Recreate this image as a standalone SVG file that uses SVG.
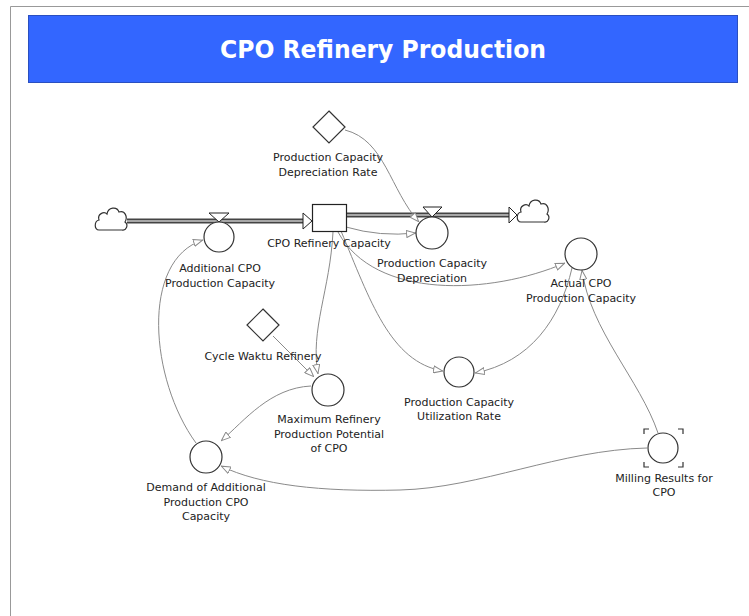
<svg xmlns="http://www.w3.org/2000/svg" width="749" height="616" viewBox="0 0 749 616">
<defs>
<style>
.lbl{font-family:"DejaVu Sans",Verdana,sans-serif;font-size:11px;fill:#222;text-anchor:middle}
.aux{fill:#fff;stroke:#333;stroke-width:1.2}
.link{fill:none;stroke:#8a8a8a;stroke-width:1}
.pipeO{fill:none;stroke:#444;stroke-width:5}
.pipeI{fill:none;stroke:#c8c8c8;stroke-width:1.6}
.head{fill:#fff;stroke:#222;stroke-width:1}
</style>
<marker id="ah" viewBox="0 0 10 8" refX="10" refY="4" markerWidth="10" markerHeight="8" markerUnits="userSpaceOnUse" orient="auto">
<path d="M0.5,0.5 L9.5,4 L0.5,7.5 Z" fill="#fff" stroke="#8a8a8a" stroke-width="1"/>
</marker>
<path id="cloud" d="M4,26 C-1,26 -1,17 4,16 C2,10 9,7 12,10 C13,3 22,2 24,8 C30,6 33,13 30,18 C34,21 31,27 27,26 Z" fill="#fff" stroke="#333" stroke-width="1.2"/>
</defs>
<rect width="749" height="616" fill="#fff"/>
<path d="M10.5,616 L10.5,6.5 L749,6.5" fill="none" stroke="#999" stroke-width="1"/>
<g id="title">
<rect x="28.5" y="15.5" width="709" height="67" fill="#3366ff" stroke="#2a4fc0" stroke-width="1"/>
<text x="383" y="58" font-family="DejaVu Sans,Verdana,sans-serif" font-size="24" font-weight="bold" fill="#fff" text-anchor="middle" textLength="326" lengthAdjust="spacingAndGlyphs">CPO Refinery Production</text>
</g>
<g id="connectors">
<path class="pipeO" d="M127,221 L304,221"/><path class="pipeI" d="M127,221 L304,221"/>
<path class="pipeO" d="M346,215 L510,215"/><path class="pipeI" d="M346,215 L510,215"/>
<path class="head" d="M303,213 L303,229 L312,221 Z"/>
<path class="head" d="M509,207 L509,223 L517,215 Z"/>
<path class="link" marker-end="url(#ah)" d="M196,443 C150,380 140,260 203,240"/>
<path class="link" marker-end="url(#ah)" d="M346,227 Q380,237 416,233"/>
<path class="link" marker-end="url(#ah)" d="M345,130 C385,140 390,190 419,222"/>
<path class="link" marker-end="url(#ah)" d="M338,232 C375,300 490,295 565,263"/>
<path class="link" marker-end="url(#ah)" d="M341,231 C370,300 390,362 443,371"/>
<path class="link" marker-end="url(#ah)" d="M333,232 C330,290 310,330 318,374"/>
<path class="link" marker-end="url(#ah)" d="M572,268 C560,320 530,362 475,373"/>
<path class="link" marker-end="url(#ah)" d="M658,433 C640,380 590,330 582,270"/>
<path class="link" marker-end="url(#ah)" d="M273,336 L314,377"/>
<path class="link" marker-end="url(#ah)" d="M311,386 C270,388 245,420 221,441"/>
<path class="link" marker-end="url(#ah)" d="M647,448 C560,450 480,488 400,490 C320,492 260,485 221,466"/>
</g>
<g id="cloud-source"><use href="#cloud" x="95" y="204"/></g>
<g id="cloud-sink"><use href="#cloud" x="517" y="196"/></g>
<g id="stock-cpo-refinery-capacity">
<rect x="312.5" y="204.5" width="34" height="27" fill="#fff" stroke="#222" stroke-width="1.2"/>
<text class="lbl" x="329" y="247">CPO Refinery Capacity</text>
</g>
<g id="flow-additional">
<path class="head" d="M209,213 L229,213 L219,222 Z"/>
<circle class="aux" cx="219" cy="237" r="15"/>
<text class="lbl" x="220" y="272">Additional CPO</text>
<text class="lbl" x="220" y="287">Production Capacity</text>
</g>
<g id="flow-depreciation">
<path class="head" d="M423,207 L442,207 L432,217 Z"/>
<circle class="aux" cx="432" cy="233" r="16"/>
<text class="lbl" x="432" y="267">Production Capacity</text>
<text class="lbl" x="432" y="282">Depreciation</text>
</g>
<g id="const-depreciation-rate">
<path class="aux" d="M329,111 L345,127 L329,143 L313,127 Z"/>
<text class="lbl" x="328" y="161">Production Capacity</text>
<text class="lbl" x="328" y="176">Depreciation Rate</text>
</g>
<g id="aux-actual">
<circle class="aux" cx="581" cy="254" r="16"/>
<text class="lbl" x="581" y="287">Actual CPO</text>
<text class="lbl" x="581" y="302">Production Capacity</text>
</g>
<g id="aux-utilization">
<circle class="aux" cx="459" cy="372" r="15"/>
<text class="lbl" x="459" y="406">Production Capacity</text>
<text class="lbl" x="459" y="420">Utilization Rate</text>
</g>
<g id="const-cycle-waktu">
<path class="aux" d="M263,309 L279,325 L263,341 L247,325 Z"/>
<text class="lbl" x="263" y="360">Cycle Waktu Refinery</text>
</g>
<g id="aux-maximum">
<circle class="aux" cx="328" cy="390" r="16"/>
<text class="lbl" x="329" y="423">Maximum Refinery</text>
<text class="lbl" x="329" y="438">Production Potential</text>
<text class="lbl" x="329" y="452">of CPO</text>
</g>
<g id="aux-demand">
<circle class="aux" cx="206" cy="457" r="16"/>
<text class="lbl" x="206" y="491">Demand of Additional</text>
<text class="lbl" x="206" y="506">Production CPO</text>
<text class="lbl" x="206" y="520">Capacity</text>
</g>
<g id="aux-milling">
<circle class="aux" cx="663" cy="448" r="15"/>
<path d="M644,434 L644,429 L649,429 M678,429 L683,429 L683,434 M644,462 L644,467 L649,467 M678,467 L683,467 L683,462" fill="none" stroke="#333" stroke-width="1.2"/>
<text class="lbl" x="664" y="482">Milling Results for</text>
<text class="lbl" x="664" y="496">CPO</text>
</g>
</svg>
